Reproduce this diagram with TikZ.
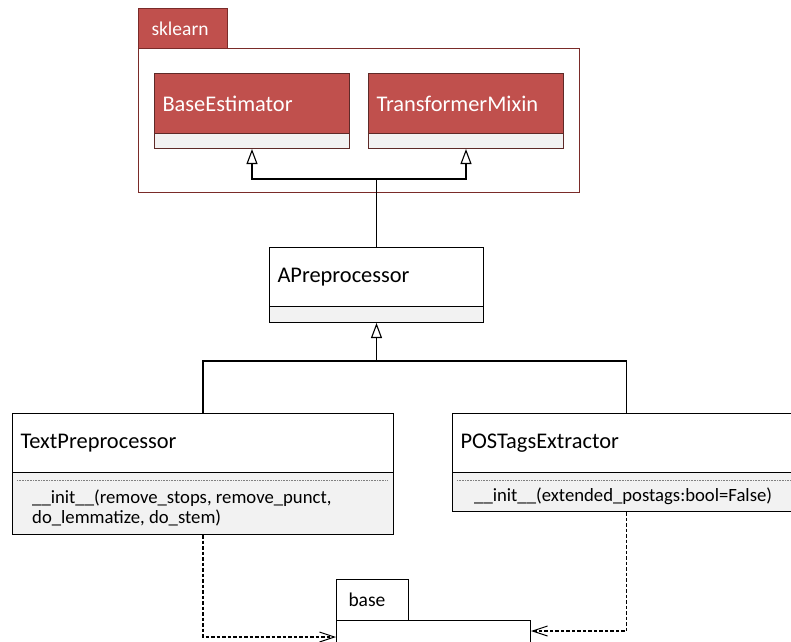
\documentclass[tikz,border=0pt]{standalone}
\usepackage{fontspec}
\setmainfont{Carlito}
\usetikzlibrary{arrows.meta}
\definecolor{umlred}{HTML}{C0504D}
\definecolor{pkgborder}{HTML}{7A2B29}
\definecolor{clsborder}{HTML}{5E2A28}
\definecolor{compgray}{HTML}{F2F2F2}
\newcommand{\clsfont}{\fontsize{22.4}{26}\selectfont}
\newcommand{\opfont}{\fontsize{18.7}{20}\selectfont}
\newcommand{\pkgfont}{\fontsize{19.5}{22}\selectfont}

\begin{document}
\begin{tikzpicture}[x=1pt,y=-1pt,
  clshdr/.style={draw, line width=1pt, anchor=north west, inner xsep=8pt, inner ysep=0pt,
                 align=left, font=\clsfont, fill=white},
  clscomp/.style={draw, line width=1pt, anchor=north west, inner sep=0pt, fill=compgray},
  redcls/.style={fill=umlred, text=white, draw=clsborder},
  pkgbody/.style={draw=pkgborder, line width=1pt, anchor=north west, inner sep=0pt, fill=white},
  pkgtab/.style={draw=pkgborder, line width=1pt, anchor=north west, inner ysep=0pt,
                 align=left, font=\pkgfont},
  oplabel/.style={anchor=west, align=left, inner sep=0pt, font=\opfont},
  sepline/.style={gray, line width=0.5pt, dash pattern=on 1pt off 0.6pt},
  inh/.style={line width=1.3pt, -{Triangle[open, length=15pt, width=11pt, line width=1.1pt, fill=white]}},
  link/.style={line width=1.3pt},
  dep/.style={line width=1.1pt, dash pattern=on 3.5pt off 2pt,
              -{Straight Barb[length=15pt, width=10pt, line width=1pt]}}
]
\useasboundingbox (0,0) rectangle (791,641);

% package sklearn
\node[pkgbody, minimum width=441pt, minimum height=144pt] (sk) at (138,48) {};
\node[pkgtab, fill=umlred, text=white, inner xsep=13pt, text width=63pt, minimum height=40pt] (sk-tab) at (138,8) {sklearn};

\node[clshdr, redcls, text width=179pt, minimum height=60pt] (be) at (154,73) {BaseEstimator};
\node[clscomp, draw=clsborder, minimum width=195pt, minimum height=15pt] (be-c) at (154,133) {};

\node[clshdr, redcls, text width=179pt, minimum height=60pt] (tm) at (368,73) {TransformerMixin};
\node[clscomp, draw=clsborder, minimum width=195pt, minimum height=15pt] (tm-c) at (368,133) {};

% APreprocessor
\node[clshdr, text width=198pt, minimum height=59pt] (ap) at (269,247) {APreprocessor};
\node[clscomp, minimum width=214pt, minimum height=16pt] (ap-c) at (269,306) {};

% TextPreprocessor
\node[clshdr, text width=365pt, minimum height=59pt] (tp) at (12,413) {TextPreprocessor};
\node[clscomp, minimum width=381pt, minimum height=62pt] (tp-c) at (12,472) {};
\draw[sepline] (17,480) -- (388,480);
\node[oplabel] (tp-op) at (32,508) {\_\_init\_\_(remove\_stops, remove\_punct,\\do\_lemmatize, do\_stem)};

% POSTagsExtractor
\node[clshdr, text width=332pt, minimum height=59pt] (pos) at (452,413) {POSTagsExtractor};
\node[clscomp, minimum width=348pt, minimum height=39pt] (pos-c) at (452,472) {};
\draw[sepline] (457,480) -- (795,480);
\node[oplabel] (pos-op) at (474,496) {\_\_init\_\_(extended\_postags:bool=False)};

% package base
\node[pkgbody, draw=black, minimum width=194pt, minimum height=60pt] (base) at (336,620) {};
\node[pkgtab, draw=black, fill=white, inner xsep=12pt, text width=48pt, minimum height=41pt] (base-tab) at (336,579) {base};

% generalisations
\coordinate (j1) at (ap.north |- 0,179);
\coordinate (j2) at (ap.north |- 0,361);
\draw[inh] (ap.north) -- (j1) -| (be-c.south);
\draw[inh] (j1) -| (tm-c.south);
\draw[link] (tp.north) |- (j2);
\draw[link] (pos.north) |- (j2);
\draw[inh] (j2) -- (ap-c.south);

% dependencies
\draw[dep] (tp-c.south) |- (base.west |- 0,637);
\draw[dep] (pos-c.south) |- (base.east |- 0,631);
\end{tikzpicture}
\end{document}
